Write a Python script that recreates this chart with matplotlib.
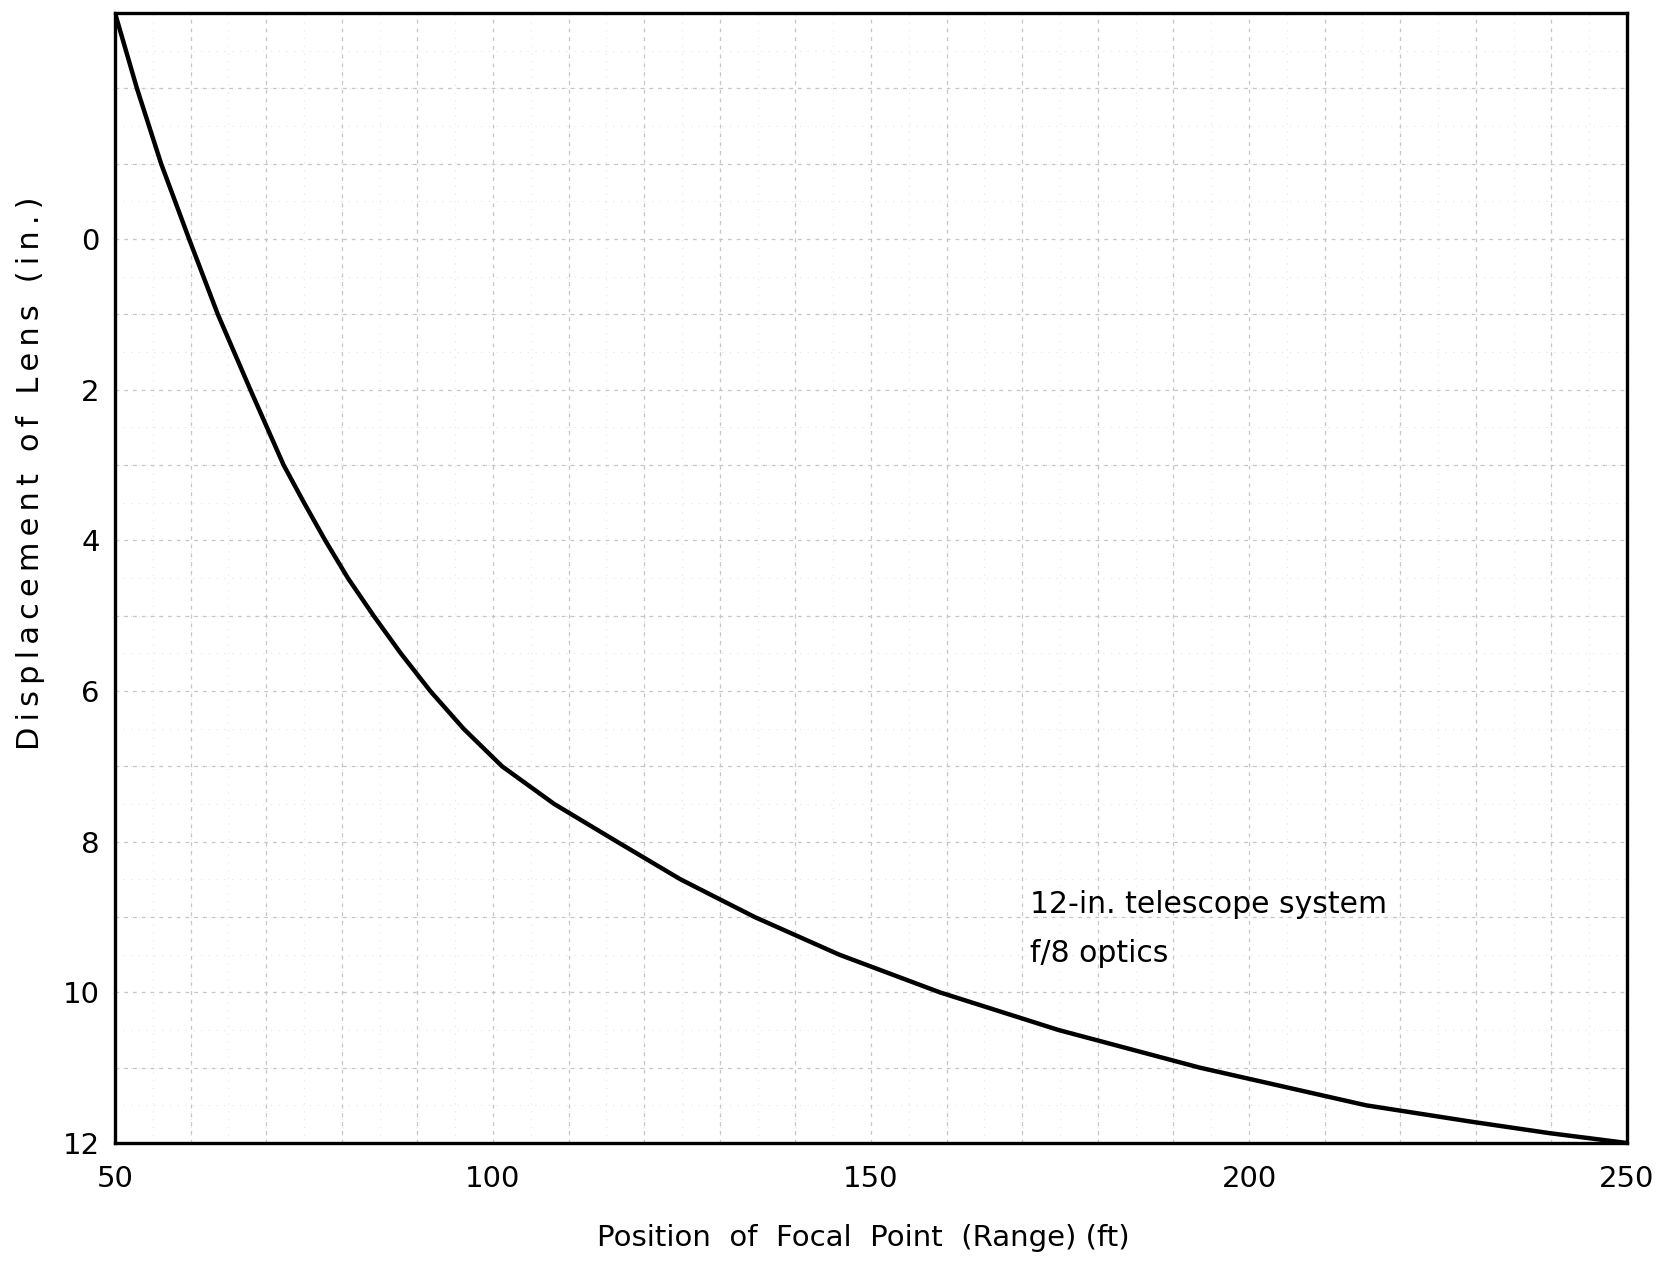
import matplotlib
matplotlib.use("Agg")
import matplotlib.pyplot as plt
from matplotlib.ticker import MultipleLocator

# values
range_ft = [50, 52.9, 56.1, 59.8, 63.6, 67.9, 72.3, 75.0, 77.8, 80.8, 84.2,
            87.8, 91.7, 96.1, 101.2, 108.1, 116.4, 124.8, 134.6, 145.8,
            159.1, 174.8, 193.5, 215.5, 229.6, 239.8, 250]
displacement_in = [-3.0, -2.0, -1.0, 0.0, 1.0, 2.0, 3.0, 3.5, 4.0, 4.5, 5.0,
                   5.5, 6.0, 6.5, 7.0, 7.5, 8.0, 8.5, 9.0, 9.5,
                   10.0, 10.5, 11.0, 11.5, 11.72, 11.87, 12.0]

x_ticks = [50, 100, 150, 200, 250]
y_ticks = [0, 2, 4, 6, 8, 10, 12]
note_lines = ["12-in. telescope system", "f/8 optics"]

plt.rcParams["font.family"] = ["DejaVu Sans"]

fig = plt.figure(figsize=(16.66, 12.65), dpi=100)
ax = fig.add_axes([115 / 1666, 1 - 1143 / 1265, 1512 / 1666, 1130 / 1265])

ax.set_xlim(50, 250)
ax.set_ylim(12, -3)

ax.plot(range_ft, displacement_in, color="black", linewidth=3.2,
        solid_capstyle="round", solid_joinstyle="round", zorder=3)

ax.set_xticks(x_ticks)
ax.set_yticks(y_ticks)

# faint graph-paper grid: 10 ft / 1 in lines, fainter 5 ft / 0.5 in lines
ax.xaxis.set_minor_locator(MultipleLocator(5))
ax.yaxis.set_minor_locator(MultipleLocator(0.5))
for v in range(60, 250, 10):
    ax.axvline(v, color="#c6c6c6", linestyle=(0, (3, 4)), linewidth=0.9, zorder=1)
for v in range(-2, 12):
    ax.axhline(v, color="#c6c6c6", linestyle=(0, (3, 4)), linewidth=0.9, zorder=1)
ax.grid(which="minor", color="#e4e4e4", linestyle=(0, (1, 6)), linewidth=0.8)
ax.set_axisbelow(True)

ax.tick_params(which="both", length=0)
ax.tick_params(axis="x", pad=16, labelsize=21)
ax.tick_params(axis="y", pad=11, labelsize=21)

for sp in ax.spines.values():
    sp.set_linewidth(2.4)
    sp.set_color("black")
    sp.set_zorder(4)

# the lettered y label is widely spaced in the original
ylab = "\u2009".join("Displacement of Lens (in.)")
ax.set_xlabel("Position  of  Focal  Point  (Range) (ft)", fontsize=21)
ax.set_ylabel(ylab, fontsize=22)
ax.xaxis.set_label_coords(0.495, -0.072)
ax.yaxis.set_label_coords(-0.046, 0.593)

ax.text(171.0, 8.95, note_lines[0], fontsize=21.5, va="baseline", ha="left")
ax.text(171.0, 9.60, note_lines[1], fontsize=21.5, va="baseline", ha="left")

fig.savefig("out.png", dpi=100)
